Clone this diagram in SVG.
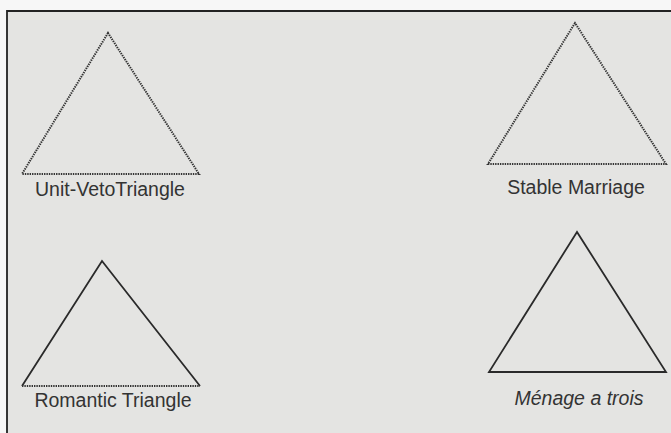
<svg xmlns="http://www.w3.org/2000/svg" width="671" height="433" viewBox="0 0 671 433">
<style>
.lbl{font-family:"Liberation Sans",Arial,sans-serif;font-size:19.5px;fill:#333;text-anchor:middle}
.it{font-style:italic}
.solid{fill:none;stroke:#2a2a2a;stroke-width:1.8;stroke-linejoin:miter}
.dot{fill:none;stroke:#333;stroke-width:2;stroke-dasharray:1.4 1}
</style>
<rect x="0" y="0" width="671" height="433" fill="#f7f7f7"/>
<rect x="7" y="11" width="664" height="422" fill="#e4e4e2"/>
<path d="M7 433 V11 H671" fill="none" stroke="#222" stroke-width="1.8"/>
<g id="unit-veto">
<path class="dot" d="M108 33 L22 174 L199 174 Z"/>
<text class="lbl" x="110" y="196">Unit-VetoTriangle</text>
</g>
<g id="stable-marriage">
<path class="dot" d="M575 23 L488 164 L666 164 Z"/>
<text class="lbl" x="576" y="194">Stable Marriage</text>
</g>
<g id="romantic">
<path class="solid" d="M22 386 L102 261 L200 386"/>
<path class="dot" d="M22 386 H200"/>
<text class="lbl" x="113" y="407">Romantic Triangle</text>
</g>
<g id="menage">
<path class="solid" d="M577 232 L489 372 L666 372 Z"/>
<text class="lbl it" x="579" y="405">Ménage a trois</text>
</g>
<g id="connectors"></g>
</svg>
